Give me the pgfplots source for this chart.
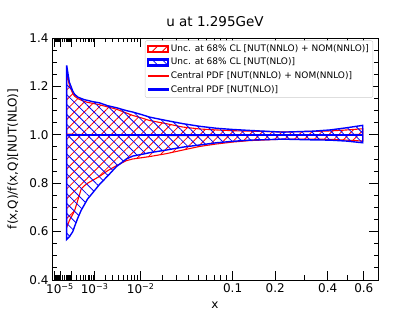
\documentclass[border=0pt]{standalone}
\usepackage{fontspec}
\setmainfont{DejaVu Sans}
\usepackage{pgfplots}
\pgfplotsset{compat=1.18}
\usepackage{pgfplotstable}
\usepgfplotslibrary{fillbetween}
\usetikzlibrary{patterns.meta}

\pgfplotstableread{
x        bu    bl    ru    rl    bc   rc
4.6e-5   1.287 0.567 1.260 0.617 1.0  1.003
7.2e-5   1.218 0.578 1.205 0.645 1.0  1.003
1.2e-4   1.180 0.600 1.170 0.672 1.0  1.002
1.5e-4   1.168 0.620 1.160 0.685 1.0  1.002
2.2e-4   1.156 0.655 1.150 0.728 1.0  1.002
3.2e-4   1.150 0.688 1.143 0.776 1.0  1.001
4.4e-4   1.145 0.712 1.138 0.790 1.0  1.001
5.8e-4   1.142 0.735 1.134 0.800 1.0  1.001
8.7e-4   1.137 0.760 1.130 0.812 1.0  1.000
1.4e-3   1.132 0.795 1.124 0.828 1.0  1.000
2.3e-3   1.120 0.830 1.115 0.852 1.0  1.000
3.6e-3   1.112 0.868 1.106 0.872 1.0  0.999
5.7e-3   1.100 0.900 1.090 0.893 1.0  0.999
7.4e-3   1.094 0.912 1.080 0.900 1.0  0.998
1.08e-2  1.082 0.920 1.068 0.906 1.0  0.998
1.36e-2  1.073 0.926 1.059 0.910 1.0  0.998
2.26e-2  1.059 0.937 1.046 0.922 1.0  0.997
3.5e-2   1.046 0.949 1.032 0.937 1.0  0.997
5.2e-2   1.035 0.958 1.024 0.952 1.0  0.997
7.35e-2  1.027 0.967 1.020 0.962 1.0  0.997
0.1      1.022 0.973 1.017 0.970 1.0  0.997
0.134    1.018 0.978 1.015 0.976 1.0  0.998
0.224    1.011 0.982 1.012 0.982 1.0  0.998
0.335    1.015 0.979 1.014 0.982 1.0  0.999
0.411    1.020 0.978 1.016 0.981 1.0  1.000
0.498    1.029 0.974 1.020 0.978 1.0  1.001
0.593    1.039 0.967 1.025 0.974 1.0  1.002
}\data

\begin{document}
\begin{tikzpicture}
\begin{axis}[
  at={(52pt,35pt)}, anchor=south west,
  scale only axis, width=326pt, height=242pt,
  xmin=0.0101, xmax=0.8965, ymin=0.4, ymax=1.4,
  axis line style={line width=0.9pt},
  tick style={black, line width=0.8pt},
  tick align=inside,
  major tick length=9pt, minor tick length=4.5pt,
  xtick={0.015849,0.031623,0.063096,0.125893,0.251189,0.501187,0.617034,0.759658,0.857917},
  xticklabels={,10\textsuperscript{−5},,10\textsuperscript{−3},10\textsuperscript{−2},0.1,0.2,0.4,0.6},
  minor xtick={0.019512,0.022037,0.024023,0.025685,0.027130,0.028414,0.029576,0.030639,
    0.038931,0.043969,0.047931,0.051248,0.054132,0.056694,0.059012,0.061133,
    0.077678,0.087729,0.095635,0.102253,0.108008,0.113118,0.117744,0.121977,
    0.154987,0.175044,0.190817,0.204023,0.215503,0.225700,0.234928,0.243376,
    0.309240,0.349259,0.380730,0.407080,0.429988,0.450333,0.468746,0.485601,
    0.696851,0.812252},
  ytick={0.4,0.6,0.8,1.0,1.2,1.4},
  minor ytick={0.45,0.5,0.55,0.65,0.7,0.75,0.85,0.9,0.95,1.05,1.1,1.15,1.25,1.3,1.35},
  yticklabel style={/pgf/number format/.cd,fixed,fixed zerofill,precision=1,assume math mode=true},
  ticklabel style={font=\fontsize{12}{14}\selectfont},
  title={u at 1.295GeV},
  title style={font=\fontsize{13.5}{16}\selectfont, at={(axis description cs:0.5,1)}, anchor=base, yshift=5pt},
  xlabel={x},
  xlabel style={font=\fontsize{12}{14}\selectfont, at={(axis description cs:0.5,0)}, anchor=base, yshift=-29pt},
  ylabel={f(x,Q)/f(x,Q)[NUT(NLO)]},
  ylabel style={font=\fontsize{12}{14}\selectfont, at={(axis description cs:-0.12,0.5)}, anchor=center},
  legend cell align=left,
  legend style={at={(axis description cs:0.985,0.99)}, anchor=north east,
    font=\fontsize{9}{10.8}\selectfont, draw=black!20, fill=white,
    rounded corners=2pt, row sep=1.2pt, inner sep=2pt},
]
\addlegendimage{legend image code/.code={%
  \begin{scope}\clip (0pt,-3pt) rectangle (20pt,3pt);
  \foreach \i in {-6,4,14,24} {\draw[red, line width=0.8pt] ({\i*1pt},-3pt) -- ++(6pt,6pt);}
  \end{scope}
  \fill[red, even odd rule, rounded corners=0pt] (-0.55pt,-3.55pt) rectangle (20.55pt,3.55pt) (0.55pt,-2.45pt) rectangle (19.45pt,2.45pt);}}
\addlegendentry{Unc. at 68\% CL [NUT(NNLO) + NOM(NNLO)]}
\addlegendimage{legend image code/.code={%
  \begin{scope}\clip (0pt,-3pt) rectangle (20pt,3pt);
  \foreach \i in {-6,4,14,24} {\draw[blue, line width=0.8pt] ({\i*1pt},3pt) -- ++(6pt,-6pt);}
  \end{scope}
  \fill[blue, even odd rule, rounded corners=0pt] (-0.7pt,-3.7pt) rectangle (20.7pt,3.7pt) (0.7pt,-2.3pt) rectangle (19.3pt,2.3pt);}}
\addlegendentry{Unc. at 68\% CL [NUT(NLO)]}
\addlegendimage{legend image code/.code={\fill[red, rounded corners=0pt] (0pt,-0.5pt) rectangle (20pt,0.5pt);}}
\addlegendentry{Central PDF [NUT(NNLO) + NOM(NNLO)]}
\addlegendimage{legend image code/.code={\fill[blue, rounded corners=0pt] (0pt,-0.75pt) rectangle (20pt,0.75pt);}}
\addlegendentry{Central PDF [NUT(NLO)]}

\addplot[name path=ru, draw=none, forget plot] table[x expr={exp(0.3*ln(\thisrow{x}))}, y=ru]{\data};
\addplot[name path=rl, draw=none, forget plot] table[x expr={exp(0.3*ln(\thisrow{x}))}, y=rl]{\data};
\addplot[name path=bu, draw=none, forget plot] table[x expr={exp(0.3*ln(\thisrow{x}))}, y=bu]{\data};
\addplot[name path=bl, draw=none, forget plot] table[x expr={exp(0.3*ln(\thisrow{x}))}, y=bl]{\data};

\addplot[forget plot, draw=red, line width=1.1pt, pattern={Lines[angle=45,distance=7pt,line width=0.8pt]}, pattern color=red] fill between[of=ru and rl];
\addplot[forget plot, draw=blue, line width=1.4pt, pattern={Lines[angle=-45,distance=7pt,line width=0.8pt]}, pattern color=blue] fill between[of=bu and bl];
\addplot[forget plot, draw=red, line width=1pt] table[x expr={exp(0.3*ln(\thisrow{x}))}, y=rc]{\data};
\addplot[forget plot, draw=blue, line width=1.5pt] table[x expr={exp(0.3*ln(\thisrow{x}))}, y=bc]{\data};
\end{axis}
\path (0,0) rectangle (420pt,315pt);
\end{tikzpicture}
\end{document}
